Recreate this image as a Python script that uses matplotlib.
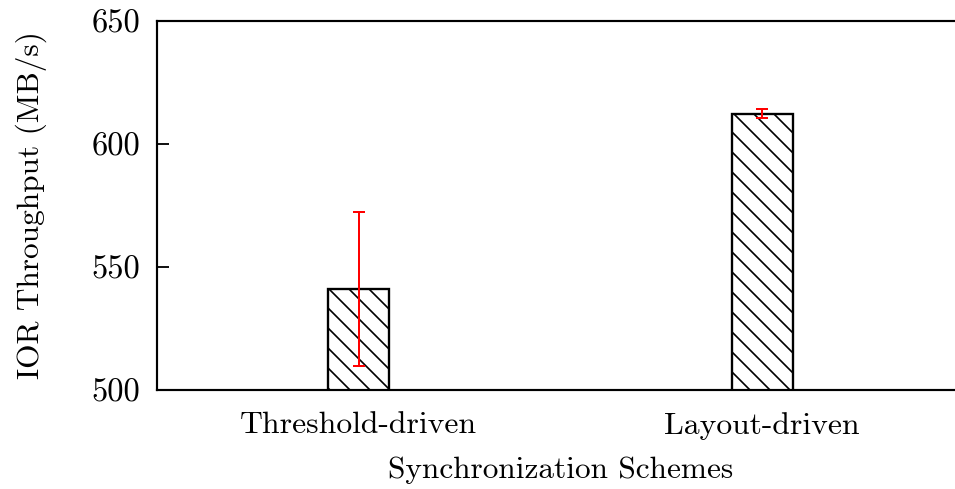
import matplotlib
matplotlib.use("Agg")
import matplotlib.pyplot as plt

# Throughput per synchronization scheme (mean and error half-width, MB/s)
schemes = ["Threshold-driven", "Layout-driven"]
throughput = [541.0, 612.3]
errors = [31.3, 1.8]
yticks = [500, 550, 600, 650]

plt.rcParams["font.family"] = ["cmr10", "DejaVu Serif"]
plt.rcParams["mathtext.fontset"] = "cm"
plt.rcParams["axes.unicode_minus"] = False
plt.rcParams["axes.formatter.use_mathtext"] = True
plt.rcParams["hatch.linewidth"] = 1.0

W, H, DPI = 955, 489, 120
fig = plt.figure(figsize=(W / DPI, H / DPI), dpi=DPI)
left, right, top, bottom = 157, 964, 21, 390
ax = fig.add_axes([left / W, (H - bottom) / H, (right - left) / W, (bottom - top) / H])

x = list(range(len(schemes)))
ax.bar(x, throughput, width=0.15, color="white", edgecolor="black",
       linewidth=1.4, hatch="\\\\", zorder=2)
ax.errorbar(x, throughput, yerr=errors, fmt="none", ecolor="#ff0000",
            elinewidth=1.2, capsize=3.5, capthick=1.2, zorder=3)

ax.set_xlim(-0.5, 1.5)
ax.set_ylim(500, 650)
ax.set_yticks(yticks)
ax.set_yticklabels([str(t) for t in yticks])
ax.set_xticks(x)
ax.set_xticklabels(schemes)

ax.tick_params(axis="y", direction="in", length=7, width=1.1, labelsize=19.5, pad=10)
ax.tick_params(axis="x", length=0, labelsize=19, pad=13)
for s in ax.spines.values():
    s.set_linewidth(1.3)

ax.set_ylabel("IOR Throughput (MB/s)", fontsize=18.8)
ax.yaxis.set_label_coords(-110 / (right - left), 0.5)
ax.set_xlabel("Synchronization Schemes", fontsize=18.8, labelpad=10)

fig.savefig("out.png", dpi=DPI)
